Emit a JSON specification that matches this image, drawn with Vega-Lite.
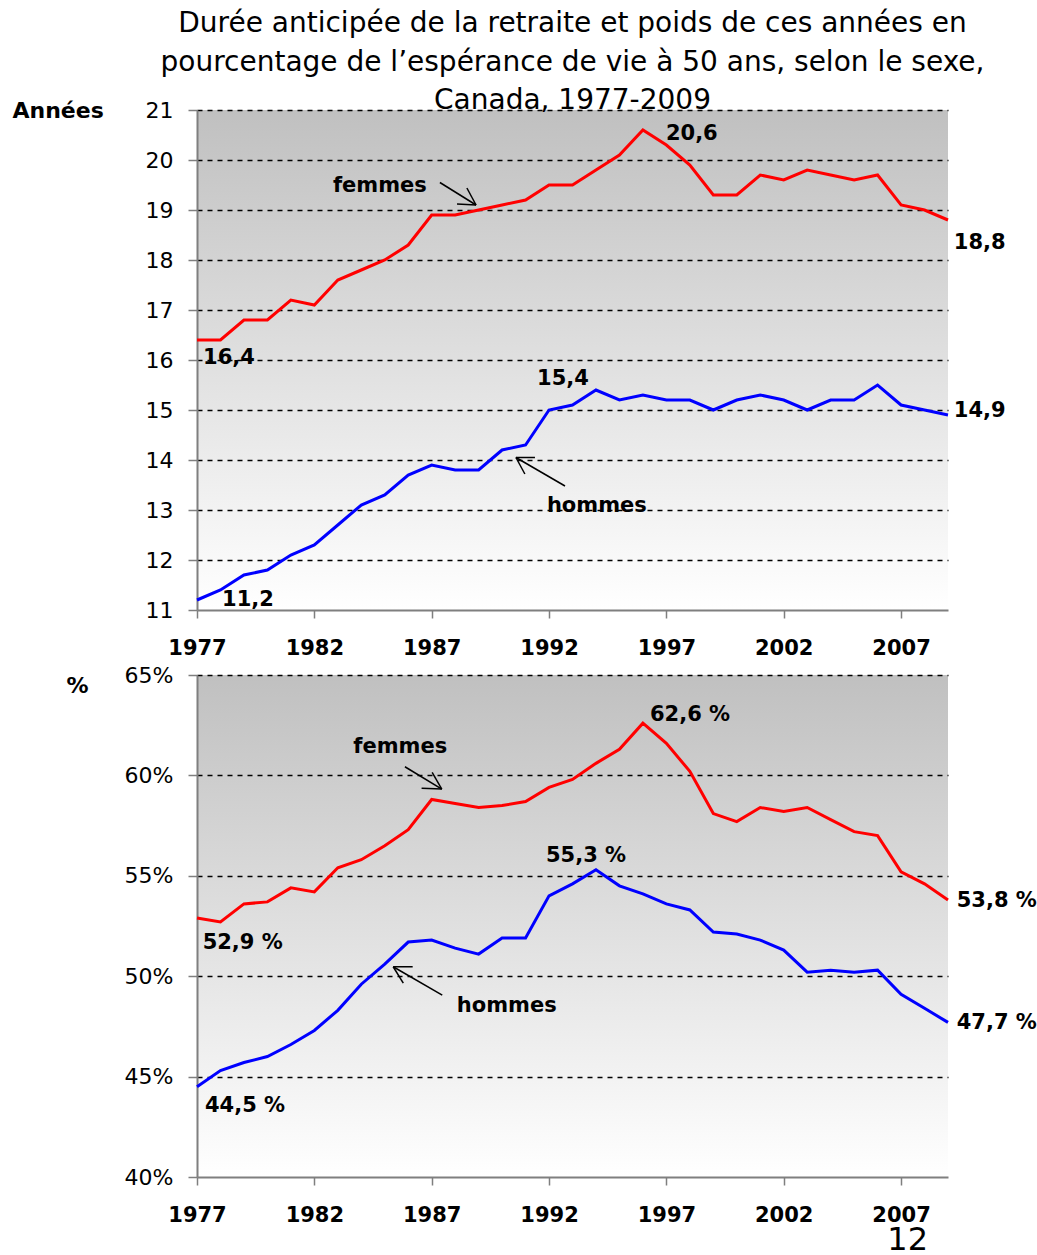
{
  "$schema": "https://vega.github.io/schema/vega-lite/v6.json",
  "padding": {"left": 12, "top": 10, "right": 0, "bottom": 0},
  "config": {
    "font": "DejaVu Sans",
    "view": {
      "stroke": null,
      "fill": {"gradient": "linear", "x1": 0, "y1": 0, "x2": 0, "y2": 1,
        "stops": [{"offset": 0, "color": "#c0c0c0"}, {"offset": 1, "color": "#ffffff"}]}
    },
    "axis": {
      "labelColor": "black",
      "titleColor": "black",
      "domainColor": "#7f7f7f",
      "domainWidth": 2,
      "tickColor": "#7f7f7f",
      "tickWidth": 1.5
    }
  },
  "datasets": {
    "series": [
      {"annee": 1977, "sexe": "femmes", "duree": 16.4, "pct": 52.9}, {"annee": 1977, "sexe": "hommes", "duree": 11.2, "pct": 44.5},
      {"annee": 1978, "sexe": "femmes", "duree": 16.4, "pct": 52.7}, {"annee": 1978, "sexe": "hommes", "duree": 11.4, "pct": 45.3},
      {"annee": 1979, "sexe": "femmes", "duree": 16.8, "pct": 53.6}, {"annee": 1979, "sexe": "hommes", "duree": 11.7, "pct": 45.7},
      {"annee": 1980, "sexe": "femmes", "duree": 16.8, "pct": 53.7}, {"annee": 1980, "sexe": "hommes", "duree": 11.8, "pct": 46.0},
      {"annee": 1981, "sexe": "femmes", "duree": 17.2, "pct": 54.4}, {"annee": 1981, "sexe": "hommes", "duree": 12.1, "pct": 46.6},
      {"annee": 1982, "sexe": "femmes", "duree": 17.1, "pct": 54.2}, {"annee": 1982, "sexe": "hommes", "duree": 12.3, "pct": 47.3},
      {"annee": 1983, "sexe": "femmes", "duree": 17.6, "pct": 55.4}, {"annee": 1983, "sexe": "hommes", "duree": 12.7, "pct": 48.3},
      {"annee": 1984, "sexe": "femmes", "duree": 17.8, "pct": 55.8}, {"annee": 1984, "sexe": "hommes", "duree": 13.1, "pct": 49.6},
      {"annee": 1985, "sexe": "femmes", "duree": 18.0, "pct": 56.5}, {"annee": 1985, "sexe": "hommes", "duree": 13.3, "pct": 50.6},
      {"annee": 1986, "sexe": "femmes", "duree": 18.3, "pct": 57.3}, {"annee": 1986, "sexe": "hommes", "duree": 13.7, "pct": 51.7},
      {"annee": 1987, "sexe": "femmes", "duree": 18.9, "pct": 58.8}, {"annee": 1987, "sexe": "hommes", "duree": 13.9, "pct": 51.8},
      {"annee": 1988, "sexe": "femmes", "duree": 18.9, "pct": 58.6}, {"annee": 1988, "sexe": "hommes", "duree": 13.8, "pct": 51.4},
      {"annee": 1989, "sexe": "femmes", "duree": 19.0, "pct": 58.4}, {"annee": 1989, "sexe": "hommes", "duree": 13.8, "pct": 51.1},
      {"annee": 1990, "sexe": "femmes", "duree": 19.1, "pct": 58.5}, {"annee": 1990, "sexe": "hommes", "duree": 14.2, "pct": 51.9},
      {"annee": 1991, "sexe": "femmes", "duree": 19.2, "pct": 58.7}, {"annee": 1991, "sexe": "hommes", "duree": 14.3, "pct": 51.9},
      {"annee": 1992, "sexe": "femmes", "duree": 19.5, "pct": 59.4}, {"annee": 1992, "sexe": "hommes", "duree": 15.0, "pct": 54.0},
      {"annee": 1993, "sexe": "femmes", "duree": 19.5, "pct": 59.8}, {"annee": 1993, "sexe": "hommes", "duree": 15.1, "pct": 54.6},
      {"annee": 1994, "sexe": "femmes", "duree": 19.8, "pct": 60.6}, {"annee": 1994, "sexe": "hommes", "duree": 15.4, "pct": 55.3},
      {"annee": 1995, "sexe": "femmes", "duree": 20.1, "pct": 61.3}, {"annee": 1995, "sexe": "hommes", "duree": 15.2, "pct": 54.5},
      {"annee": 1996, "sexe": "femmes", "duree": 20.6, "pct": 62.6}, {"annee": 1996, "sexe": "hommes", "duree": 15.3, "pct": 54.1},
      {"annee": 1997, "sexe": "femmes", "duree": 20.3, "pct": 61.6}, {"annee": 1997, "sexe": "hommes", "duree": 15.2, "pct": 53.6},
      {"annee": 1998, "sexe": "femmes", "duree": 19.9, "pct": 60.2}, {"annee": 1998, "sexe": "hommes", "duree": 15.2, "pct": 53.3},
      {"annee": 1999, "sexe": "femmes", "duree": 19.3, "pct": 58.1}, {"annee": 1999, "sexe": "hommes", "duree": 15.0, "pct": 52.2},
      {"annee": 2000, "sexe": "femmes", "duree": 19.3, "pct": 57.7}, {"annee": 2000, "sexe": "hommes", "duree": 15.2, "pct": 52.1},
      {"annee": 2001, "sexe": "femmes", "duree": 19.7, "pct": 58.4}, {"annee": 2001, "sexe": "hommes", "duree": 15.3, "pct": 51.8},
      {"annee": 2002, "sexe": "femmes", "duree": 19.6, "pct": 58.2}, {"annee": 2002, "sexe": "hommes", "duree": 15.2, "pct": 51.3},
      {"annee": 2003, "sexe": "femmes", "duree": 19.8, "pct": 58.4}, {"annee": 2003, "sexe": "hommes", "duree": 15.0, "pct": 50.2},
      {"annee": 2004, "sexe": "femmes", "duree": 19.7, "pct": 57.8}, {"annee": 2004, "sexe": "hommes", "duree": 15.2, "pct": 50.3},
      {"annee": 2005, "sexe": "femmes", "duree": 19.6, "pct": 57.2}, {"annee": 2005, "sexe": "hommes", "duree": 15.2, "pct": 50.2},
      {"annee": 2006, "sexe": "femmes", "duree": 19.7, "pct": 57.0}, {"annee": 2006, "sexe": "hommes", "duree": 15.5, "pct": 50.3},
      {"annee": 2007, "sexe": "femmes", "duree": 19.1, "pct": 55.2}, {"annee": 2007, "sexe": "hommes", "duree": 15.1, "pct": 49.1},
      {"annee": 2008, "sexe": "femmes", "duree": 19.0, "pct": 54.6}, {"annee": 2008, "sexe": "hommes", "duree": 15.0, "pct": 48.4},
      {"annee": 2009, "sexe": "femmes", "duree": 18.8, "pct": 53.8}, {"annee": 2009, "sexe": "hommes", "duree": 14.9, "pct": 47.7}
    ],
    "labels": [
      {"panel": "annees", "annee": 1977.26, "valeur": 15.92, "texte": "16,4"},
      {"panel": "annees", "annee": 1978.07, "valeur": 11.09, "texte": "11,2"},
      {"panel": "annees", "annee": 1991.49, "valeur": 15.50, "texte": "15,4"},
      {"panel": "annees", "annee": 1996.98, "valeur": 20.40, "texte": "20,6"},
      {"panel": "annees", "annee": 2009.25, "valeur": 18.23, "texte": "18,8"},
      {"panel": "annees", "annee": 2009.25, "valeur": 14.87, "texte": "14,9"},
      {"panel": "annees", "annee": 1982.79, "valeur": 19.37, "texte": "femmes"},
      {"panel": "annees", "annee": 1991.91, "valeur": 12.97, "texte": "hommes"},
      {"panel": "pct", "annee": 1996.30, "valeur": 62.72, "texte": "62,6 %"},
      {"panel": "pct", "annee": 1991.87, "valeur": 55.70, "texte": "55,3 %"},
      {"panel": "pct", "annee": 1983.66, "valeur": 61.10, "texte": "femmes"},
      {"panel": "pct", "annee": 1977.24, "valeur": 51.35, "texte": "52,9 %"},
      {"panel": "pct", "annee": 2009.37, "valeur": 53.46, "texte": "53,8 %"},
      {"panel": "pct", "annee": 1988.07, "valeur": 48.23, "texte": "hommes"},
      {"panel": "pct", "annee": 2009.37, "valeur": 47.37, "texte": "47,7 %"},
      {"panel": "pct", "annee": 1977.34, "valeur": 43.22, "texte": "44,5 %"}
    ],
    "arrows": [
      {"panel": "annees", "annee": 1987.35, "valeur": 19.55, "annee2": 1988.89, "valeur2": 19.10},
      {"panel": "annees", "annee": 1988.08, "valeur": 19.12, "annee2": 1988.89, "valeur2": 19.10},
      {"panel": "annees", "annee": 1988.50, "valeur": 19.44, "annee2": 1988.89, "valeur2": 19.10},
      {"panel": "annees", "annee": 1992.68, "valeur": 13.48, "annee2": 1990.59, "valeur2": 14.05},
      {"panel": "annees", "annee": 1991.40, "valeur": 14.05, "annee2": 1990.59, "valeur2": 14.05},
      {"panel": "annees", "annee": 1990.97, "valeur": 13.72, "annee2": 1990.59, "valeur2": 14.05},
      {"panel": "pct", "annee": 1985.86, "valeur": 60.43, "annee2": 1987.43, "valeur2": 59.32},
      {"panel": "pct", "annee": 1986.57, "valeur": 59.36, "annee2": 1987.43, "valeur2": 59.32},
      {"panel": "pct", "annee": 1987.02, "valeur": 60.15, "annee2": 1987.43, "valeur2": 59.32},
      {"panel": "pct", "annee": 1987.45, "valeur": 49.06, "annee2": 1985.36, "valeur2": 50.47},
      {"panel": "pct", "annee": 1986.19, "valeur": 50.47, "annee2": 1985.36, "valeur2": 50.47},
      {"panel": "pct", "annee": 1985.79, "valeur": 49.65, "annee2": 1985.36, "valeur2": 50.47}
    ]
  },
  "bounds": "flush",
  "spacing": 65,
  "vconcat": [
    {
      "width": 751,
      "height": 500,
      "title": {
        "text": ["Durée anticipée de la retraite et poids de ces années en", "pourcentage de l’espérance de vie à 50 ans, selon le sexe,", "Canada, 1977-2009"],
        "fontSize": 28, "fontWeight": "normal", "lineHeight": 38.5, "anchor": "middle", "frame": "group", "offset": -16, "color": "black"
      },
      "layer": [
        {
          "data": {"name": "series"},
          "mark": {"type": "line", "strokeWidth": 3},
          "encoding": {
            "x": {"field": "annee", "type": "quantitative", "title": null,
              "scale": {"domain": [1977, 2009], "nice": false, "zero": false},
              "axis": {"values": [1977, 1982, 1987, 1992, 1997, 2002, 2007], "format": "d", "labelFontSize": 21, "labelFontWeight": "bold", "labelPadding": 19, "tickSize": 8, "grid": false, "labelFlush": false, "labelOverlap": false}},
            "y": {"field": "duree", "type": "quantitative", "title": "Années",
              "scale": {"domain": [11, 21], "nice": false, "zero": false},
              "axis": {"values": [11, 12, 13, 14, 15, 16, 17, 18, 19, 20, 21], "grid": true, "gridColor": "black", "gridDash": [5, 5], "gridWidth": 1.5,
                "gridOpacity": {"condition": {"test": "datum.value == 11", "value": 0}, "value": 1},
                "labelFontSize": 22, "labelPadding": 15, "tickSize": 9,
                "titleAngle": 0, "titleX": -185, "titleY": 0, "titleAlign": "left", "titleBaseline": "middle", "titleFontSize": 22, "titleFontWeight": "bold"}},
            "color": {"field": "sexe", "type": "nominal", "scale": {"domain": ["femmes", "hommes"], "range": ["#ff0000", "#0000ff"]}, "legend": null}
          }
        },
        {
          "data": {"name": "labels"},
          "transform": [{"filter": "datum.panel == 'annees'"}],
          "mark": {"type": "text", "align": "left", "baseline": "alphabetic", "fontWeight": "bold", "fontSize": 21, "color": "black"},
          "encoding": {
            "x": {"field": "annee", "type": "quantitative", "title": null},
            "y": {"field": "valeur", "type": "quantitative", "title": "Années"},
            "text": {"field": "texte"}
          }
        },
        {
          "data": {"name": "arrows"},
          "transform": [{"filter": "datum.panel == 'annees'"}],
          "mark": {"type": "rule", "color": "black", "strokeWidth": 1.5},
          "encoding": {
            "x": {"field": "annee", "type": "quantitative", "title": null},
            "x2": {"field": "annee2"},
            "y": {"field": "valeur", "type": "quantitative", "title": "Années"},
            "y2": {"field": "valeur2"}
          }
        }
      ]
    },
    {
      "width": 751,
      "height": 502,
      "title": {"text": "12", "orient": "bottom", "anchor": "end", "frame": "group", "fontSize": 32, "fontWeight": "normal", "dx": -20, "offset": 0, "color": "black"},
      "layer": [
        {
          "data": {"name": "series"},
          "mark": {"type": "line", "strokeWidth": 3},
          "encoding": {
            "x": {"field": "annee", "type": "quantitative", "title": null,
              "scale": {"domain": [1977, 2009], "nice": false, "zero": false},
              "axis": {"values": [1977, 1982, 1987, 1992, 1997, 2002, 2007], "format": "d", "labelFontSize": 21, "labelFontWeight": "bold", "labelPadding": 19, "tickSize": 8, "grid": false, "labelFlush": false, "labelOverlap": false}},
            "y": {"field": "pct", "type": "quantitative", "title": "%",
              "scale": {"domain": [40, 65], "nice": false, "zero": false},
              "axis": {"values": [40, 45, 50, 55, 60, 65], "labelExpr": "datum.value + '%'", "grid": true, "gridColor": "black", "gridDash": [5, 5], "gridWidth": 1.5,
                "gridOpacity": {"condition": {"test": "datum.value == 40", "value": 0}, "value": 1},
                "labelFontSize": 22, "labelPadding": 15, "tickSize": 9,
                "titleAngle": 0, "titleX": -131, "titleY": 10, "titleAlign": "left", "titleBaseline": "middle", "titleFontSize": 22, "titleFontWeight": "bold"}},
            "color": {"field": "sexe", "type": "nominal", "scale": {"domain": ["femmes", "hommes"], "range": ["#ff0000", "#0000ff"]}, "legend": null}
          }
        },
        {
          "data": {"name": "labels"},
          "transform": [{"filter": "datum.panel == 'pct'"}],
          "mark": {"type": "text", "align": "left", "baseline": "alphabetic", "fontWeight": "bold", "fontSize": 21, "color": "black"},
          "encoding": {
            "x": {"field": "annee", "type": "quantitative", "title": null},
            "y": {"field": "valeur", "type": "quantitative", "title": "%"},
            "text": {"field": "texte"}
          }
        },
        {
          "data": {"name": "arrows"},
          "transform": [{"filter": "datum.panel == 'pct'"}],
          "mark": {"type": "rule", "color": "black", "strokeWidth": 1.5},
          "encoding": {
            "x": {"field": "annee", "type": "quantitative", "title": null},
            "x2": {"field": "annee2"},
            "y": {"field": "valeur", "type": "quantitative", "title": "%"},
            "y2": {"field": "valeur2"}
          }
        }
      ]
    }
  ]
}
